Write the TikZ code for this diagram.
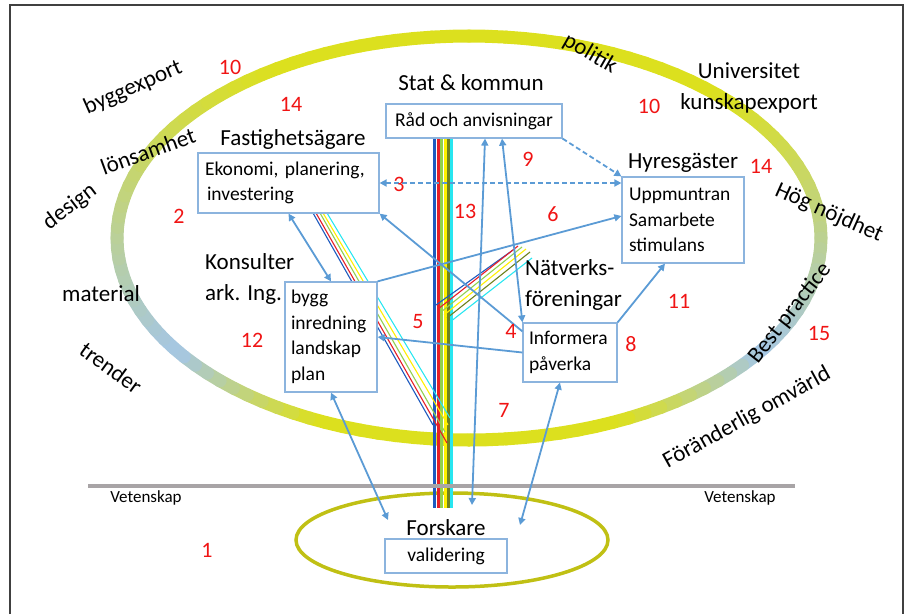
\documentclass[tikz,border=0pt]{standalone}
\usepackage{fontspec}
\setmainfont{Carlito}
\usetikzlibrary{arrows.meta,calc,shapes.geometric}

\definecolor{bandyellow}{RGB}{220,224,30}
\definecolor{bandblue}{RGB}{165,198,228}
\definecolor{arrowblue}{RGB}{91,155,213}
\definecolor{boxblue}{RGB}{140,180,222}
\definecolor{numred}{RGB}{240,20,20}
\definecolor{rimolive}{RGB}{192,192,20}
\definecolor{ruleg}{RGB}{168,164,166}
\definecolor{bdblue}{RGB}{30,90,190}
\definecolor{bred}{RGB}{230,30,40}
\definecolor{bgreen}{RGB}{146,208,80}
\definecolor{byellow}{RGB}{255,240,0}
\definecolor{bolive}{RGB}{110,130,30}
\definecolor{bcyan}{RGB}{40,230,240}

\begin{document}
\begin{tikzpicture}[x=1pt,y=-1pt]
    \tikzstyle{lbl}=[font=\fontsize{23}{31}\selectfont, inner sep=0pt]
    \tikzstyle{nr}=[text=numred, font=\fontsize{22}{26}\selectfont, inner sep=0pt]
    \tikzstyle{infobox}=[draw=boxblue, line width=1.2pt, fill=white, font=\fontsize{19.5}{25.5}\selectfont, align=left, inner xsep=7pt, inner ysep=0pt]
    \tikzstyle{ring}=[line width=13pt, line cap=round]
    \tikzstyle{conn}=[arrowblue, line width=1.8pt, >={Triangle[length=7pt,width=7pt]}]
    \tikzstyle{dconn}=[conn, dash pattern=on 5pt off 3pt]

    \useasboundingbox (0,0) rectangle (909,614);
    \draw[black!75, line width=2.5pt] (10,614) -- (10,5) -- (903,5) -- (903,614);

    % the big ring, yellow with blue patches low left and low right
    \coordinate (c) at (469,238);
    \foreach \t in {-90,-87,...,267} {
        \pgfmathsetmacro\bR{max(0,min((\t+46)/80,(64-\t)/30))}
        \pgfmathsetmacro\bL{max(0,min((\t-115)/30,(235-\t)/90))}
        \pgfmathtruncatemacro\yp{100*(1-min(1,max(\bR,\bL)))}
        \draw[ring, bandyellow!\yp!bandblue] ($(c)+(\t:352 and 202)$) -- ($(c)+(\t+3:352 and 202)$);
    }

    \node[draw=rimolive, line width=3.5pt, ellipse, minimum width=312pt, minimum height=94pt, inner sep=0pt] (forsk) at (452,540) {};

    % colour bundles
    \foreach \xa/\col in {434/bdblue,438/bred,441.5/bgreen,445/byellow,448/bolive,451.5/bcyan}
        \draw[\col, line width=3pt] (\xa,138) -- (\xa,508);
    \foreach \xa/\xb/\yb/\col in {313/433/425/bdblue,316/447/443/bred,320/445/432/bgreen,323/448/425/byellow,327/450/418/bcyan}
        \draw[\col, line width=1.1pt] (\xa,213) -- (\xb,\yb);
    \foreach \xa/\ya/\xb/\yb/\col in {436/305/513/250/bdblue,438/309/518/246/bred,441/312/522/247/bgreen,444/315/526/249/byellow,447/318/530/252/bolive,450/322/532/258/bcyan}
        \draw[\col, line width=1.1pt] (\xa,\ya) -- (\xb,\yb);

    \draw[ruleg, line width=4pt] (88,486) -- (795,486);
    \node[font=\fontsize{17}{20}\selectfont, inner sep=0pt] (vetl) at (146,498) {Vetenskap};
    \node[font=\fontsize{17}{20}\selectfont, inner sep=0pt] (vetr) at (740,498) {Vetenskap};

    \node[lbl] (stat) at (471,83) {Stat \& kommun};
    \node[infobox, align=center, minimum width=176pt, minimum height=34pt] (rad) at (474,121) {Råd och anvisningar};
    \node[lbl] (fast) at (293,139) {Fastighetsägare};
    \node[infobox, text width=167pt, minimum height=60pt] (eko) at (288.5,183) {Ekonomi, planering,\\\hspace*{2pt}investering};
    \node[lbl] (hyr) at (683,163) {Hyresgäster};
    \node[infobox, text width=108pt, minimum height=86pt] (upp) at (683,220) {Uppmuntran\\Samarbete\\stimulans};
    \node[lbl, align=left, anchor=west] (kons) at (205,279) {Konsulter\\ark. Ing.};
    \node[infobox, text width=80pt, inner xsep=6pt, minimum height=110pt] (bygg) at (331,337) {bygg\\inredning\\landskap\\plan};
    \node[lbl, align=left, anchor=west] (natv) at (525,285) {Nätverks-\\föreningar};
    \node[infobox, text width=82pt, inner xsep=6pt, minimum height=59pt] (inf) at (570,352.5) {Informera\\påverka};
    \node[lbl, align=center] (univ) at (749,88) {Universitet\\kunskapexport};
    \node[lbl] (fors) at (446,528) {Forskare};
    \node[infobox, align=center, minimum width=122pt, minimum height=34pt] (val) at (446,556) {validering};

    \node[lbl, rotate=24] (bexp) at (133,88) {byggexport};
    \node[lbl, rotate=20] (lons) at (148,151) {lönsamhet};
    \node[lbl, rotate=37] (des) at (70,207) {design};
    \node[lbl] (mat) at (101,294) {material};
    \node[lbl, rotate=-36] (trend) at (111,368) {trender};
    \node[lbl, rotate=-30] (pol) at (590,54) {politik};
    \node[lbl, rotate=-24] (hog) at (829,213) {Hög nöjdhet};
    \node[lbl, rotate=52] (best) at (790,313) {Best practice};
    \node[lbl, rotate=29] (foer) at (747,418) {Föränderlig omvärld};

    \draw[dconn,<->] (eko.east) -- (eko.east -| upp.west);
    \draw[dconn,->] (rad.south east) -- (upp.north west);
    \draw[conn,->] (bygg.north east) -- ([yshift=4pt]upp.west);
    \draw[conn,->] ([yshift=-9pt]inf.north west) -- (eko.south east);
    \draw[conn,<->] (eko.south) -- (bygg.north);
    \draw[conn,->] (inf.west) -- (bygg.east);
    \draw[conn,->] (inf.north east) -- ([xshift=-18pt]upp.south);
    \draw[conn,<->] ([xshift=28pt]rad.south) -- (inf.north west);
    \draw[conn,<->] ([xshift=11pt]rad.south) -- ([xshift=20pt,yshift=35pt]forsk.center);
    \draw[conn,<->] (bygg.south) -- ([xshift=-64pt,yshift=20pt]forsk.center);
    \draw[conn,<->] ([xshift=-10pt]inf.south) -- ([xshift=68pt,yshift=15pt]forsk.center);

    \node[nr] (n1) at (207,550) {1};
    \node[nr] (n2) at (179,216) {2};
    \node[nr] (n3) at (399,184) {3};
    \node[nr] (n4) at (511,331) {4};
    \node[nr] (n5) at (418,322) {5};
    \node[nr] (n6) at (553,214) {6};
    \node[nr] (n7) at (504,410) {7};
    \node[nr] (n8) at (631,344) {8};
    \node[nr] (n9) at (528,159) {9};
    \node[nr] (n10a) at (230,67) {10};
    \node[nr] (n10b) at (649,106) {10};
    \node[nr] (n11) at (679,301) {11};
    \node[nr] (n12) at (252,340) {12};
    \node[nr] (n13) at (465,211) {13};
    \node[nr] (n14a) at (291,104) {14};
    \node[nr] (n14b) at (761,166) {14};
    \node[nr] (n15) at (819,333) {15};
\end{tikzpicture}
\end{document}
